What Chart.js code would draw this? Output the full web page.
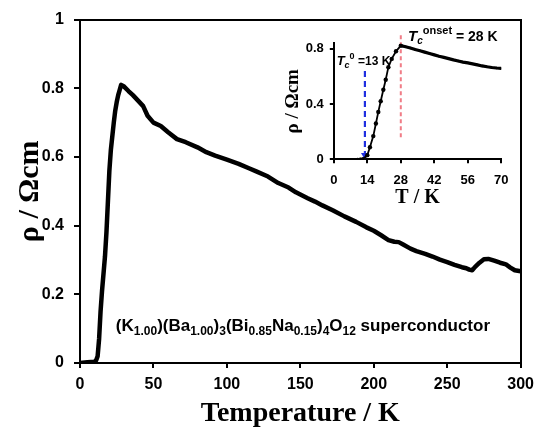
<!DOCTYPE html>
<html><head><meta charset="utf-8">
<script src="https://cdn.jsdelivr.net/npm/chart.js@4"></script>
<style>
html,body{margin:0;padding:0;background:#fff;}
#wrap{position:relative;width:541px;height:432px;}
#main{position:absolute;left:0;top:0;}
#inset{position:absolute;left:280px;top:0;}
</style></head><body>
<div id="wrap"><canvas id="main" width="541" height="432"></canvas><canvas id="inset" width="261" height="210"></canvas></div>
<script>
// ---- data ----
const mainT   = [0,5,10,11,12,13,14,15,16,17,18,19,20,21,22,23,24,25,26,27,28,30,33,36,40,43,46,50,55,60,66,72,80,86,92,100,108,115,120,128,135,142,147,155,160,165,172,180,188,195,200,205,210,214,217,220,225,229,235,240,245,250,255,260,263,265,267,269,272,275,278,282,286,290,293,296,300];
const mainRho = [0,0.002,0.004,0.008,0.02,0.07,0.15,0.21,0.26,0.31,0.38,0.47,0.56,0.62,0.66,0.70,0.735,0.76,0.78,0.795,0.81,0.805,0.792,0.78,0.762,0.748,0.72,0.70,0.69,0.672,0.652,0.643,0.628,0.614,0.604,0.592,0.58,0.567,0.558,0.543,0.524,0.511,0.497,0.48,0.47,0.459,0.445,0.427,0.411,0.395,0.385,0.372,0.358,0.353,0.352,0.345,0.333,0.326,0.318,0.31,0.301,0.294,0.286,0.279,0.276,0.272,0.27,0.28,0.292,0.302,0.303,0.298,0.292,0.287,0.278,0.27,0.267];
const insetT   = [0,2,4,6,8,10,11,12,13,14,15.1,16.5,17.6,18.6,19.6,20.7,21.7,22.8,24.2,26,28,30,32,34,36,38,40,42,44,46,48,50,52,54,56,58,60,62,64,66,68,70];
const insetRho = [0,0,0,0,0,0.002,0.004,0.007,0.012,0.03,0.087,0.168,0.259,0.343,0.42,0.504,0.576,0.667,0.727,0.782,0.823,0.815,0.806,0.795,0.786,0.776,0.766,0.756,0.746,0.738,0.729,0.72,0.712,0.704,0.698,0.691,0.684,0.676,0.67,0.665,0.661,0.658];
const mainXTicks  = [0,50,100,150,200,250,300];
const mainYTicks  = [0,0.2,0.4,0.6,0.8,1];
const insetXTicks = [0,14,28,42,56,70];
const insetYTicks = [0,0.4,0.8];
const tcZeroT = 13, tcZeroRho = [0.64,0.03];
const tcOnsetT = 28, tcOnsetRho = [0.16,0.92];

const SANS = '"Liberation Sans", Arial, sans-serif';
const SERIF = '"Liberation Serif", "Times New Roman", serif';

function drawRich(ctx, x, y, parts){
  for (const p of parts){ ctx.font = p[1]; ctx.fillText(p[0], x, y + (p[2]||0)); x += ctx.measureText(p[0]).width; }
}
function tickSetter(arr){ return s => { s.ticks = arr.map(v => ({value:v})); }; }
const plainLabel = v => String(v);

// ---- main chart ----
const formulaPlugin = {
  id:'formula',
  afterDraw(chart){
    const ctx = chart.ctx, xs = chart.scales.x, ys = chart.scales.y;
    ctx.save(); ctx.fillStyle = '#000'; ctx.textBaseline = 'alphabetic';
    const B = 'bold 17px ' + SANS, S = 'bold 12px ' + SANS;
    drawRich(ctx, xs.getPixelForValue(24.4), ys.getPixelForValue(0.092), [
      ['(K',B],['1.00',S,4],[')(Ba',B],['1.00',S,4],[')',B],['3',S,4],['(Bi',B],['0.85',S,4],['Na',B],['0.15',S,4],[')',B],['4',S,4],['O',B],['12',S,4],[' superconductor',B]
    ]);
    ctx.restore();
  }
};

new Chart(document.getElementById('main'), {
  type:'line',
  data:{datasets:[{
    data: mainT.map((t,i)=>({x:t,y:mainRho[i]})),
    borderColor:'#000', borderWidth:4.5, pointRadius:0, tension:0,
    borderJoinStyle:'round', borderCapStyle:'round'
  }]},
  options:{
    responsive:false, animation:false,
    layout:{padding:{left:0,right:19,top:15,bottom:0}},
    plugins:{legend:{display:false}, tooltip:{enabled:false}},
    scales:{
      x:{type:'linear',position:'bottom',min:0,max:300,
        afterBuildTicks:tickSetter(mainXTicks), afterFit:s=>{s.height=69;},
        ticks:{color:'#000',font:{family:SANS,size:16,weight:'bold'},padding:7,maxRotation:0,callback:plainLabel},
        grid:{drawOnChartArea:false,drawTicks:true,tickLength:5,color:'#000',lineWidth:2},
        border:{display:true,color:'#000',width:2},
        title:{display:true,text:'Temperature / K',color:'#000',font:{family:SERIF,size:28,weight:'bold'},padding:{top:0,bottom:1}}
      },
      y:{type:'linear',position:'left',min:0,max:1,
        afterBuildTicks:tickSetter(mainYTicks), afterFit:s=>{s.width=80;},
        ticks:{color:'#000',font:{family:SANS,size:16,weight:'bold'},padding:10,callback:plainLabel},
        grid:{drawOnChartArea:false,drawTicks:true,tickLength:6,color:'#000',lineWidth:2},
        border:{display:true,color:'#000',width:2},
        title:{display:true,text:'ρ / Ωcm',color:'#000',font:{family:SERIF,size:30,weight:'bold'},padding:{top:12,bottom:0}}
      },
      x2:{type:'linear',position:'top',min:0,max:300,
        ticks:{display:false},grid:{display:false},border:{display:true,color:'#000',width:2},
        afterFit:s=>{s.height=0;}
      },
      y2:{type:'linear',position:'right',min:0,max:1,
        ticks:{display:false},grid:{display:false},border:{display:true,color:'#000',width:2},
        afterFit:s=>{s.width=0;}
      }
    }
  },
  plugins:[formulaPlugin]
});

// ---- inset chart ----
const insetTextPlugin = {
  id:'insetText',
  afterDraw(chart){
    const ctx = chart.ctx, xs = chart.scales.x, ys = chart.scales.y;
    ctx.save(); ctx.fillStyle = '#000'; ctx.textBaseline = 'alphabetic';
    drawRich(ctx, xs.getPixelForValue(1.2), ys.getPixelForValue(0.683), [
      ['T','italic bold 13px '+SANS],['c','italic bold 9px '+SANS,3],['0','bold 9px '+SANS,-6],[' =13 K','bold 12px '+SANS]
    ]);
    drawRich(ctx, xs.getPixelForValue(31), ys.getPixelForValue(0.857), [
      ['T','italic bold 15px '+SANS],['c','italic bold 10px '+SANS,3],['onset','bold 11px '+SANS,-7],[' = 28 K','bold 14px '+SANS]
    ]);
    ctx.restore();
  }
};

new Chart(document.getElementById('inset'), {
  type:'line',
  data:{datasets:[
    {
      data: insetT.map((t,i)=>({x:t,y:insetRho[i]})),
      borderColor:'#000', borderWidth:2, tension:0,
      pointRadius: c => (c.raw && c.raw.x >= 14 && c.raw.x <= 28) ? 2.2 : 1.2,
      pointBackgroundColor:'#000', pointBorderWidth:0,
      segment:{borderWidth: c => c.p0.parsed.x >= 28 ? 3.2 : 1.8}
    },
    {
      data:[{x:tcZeroT,y:tcZeroRho[0]},{x:tcZeroT,y:tcZeroRho[1]}],
      borderColor:'#1f2fe0', borderWidth:2.2, borderDash:[6,4], tension:0,
      pointRadius:[0,4.5], pointStyle:'triangle', pointRotation:180,
      pointBackgroundColor:'#1f2fe0', pointBorderWidth:0
    },
    {
      data:[{x:tcOnsetT,y:tcOnsetRho[0]},{x:tcOnsetT,y:tcOnsetRho[1]}],
      borderColor:'#f07c86', borderWidth:2, borderDash:[4,3], tension:0,
      pointRadius:0, clip:false
    }
  ]},
  options:{
    responsive:false, animation:false,
    layout:{padding:{left:0,right:39.7,top:43.3,bottom:0}},
    plugins:{legend:{display:false}, tooltip:{enabled:false}},
    scales:{
      x:{type:'linear',position:'bottom',min:0,max:70,
        afterBuildTicks:tickSetter(insetXTicks), afterFit:s=>{s.height=50.7;},
        ticks:{color:'#000',font:{family:SANS,size:13,weight:'bold'},padding:9,maxRotation:0,callback:plainLabel},
        grid:{drawOnChartArea:false,drawTicks:true,tickLength:4,color:'#000',lineWidth:2},
        border:{display:true,color:'#000',width:2},
        title:{display:true,text:'T / K',color:'#000',font:{family:SERIF,size:20,weight:'bold'},padding:{top:0,bottom:0}}
      },
      y:{type:'linear',position:'left',min:0,max:0.84,
        afterBuildTicks:tickSetter(insetYTicks), afterFit:s=>{s.width=53.8;},
        ticks:{color:'#000',font:{family:SANS,size:13,weight:'bold'},padding:6,callback:plainLabel},
        grid:{drawOnChartArea:false,drawTicks:true,tickLength:4,color:'#000',lineWidth:2},
        border:{display:true,color:'#000',width:2},
        title:{display:true,text:'ρ / Ωcm',color:'#000',font:{family:SERIF,size:19,weight:'bold'},padding:{top:2,bottom:0}}
      }
    }
  },
  plugins:[insetTextPlugin]
});
</script>
</body></html>
